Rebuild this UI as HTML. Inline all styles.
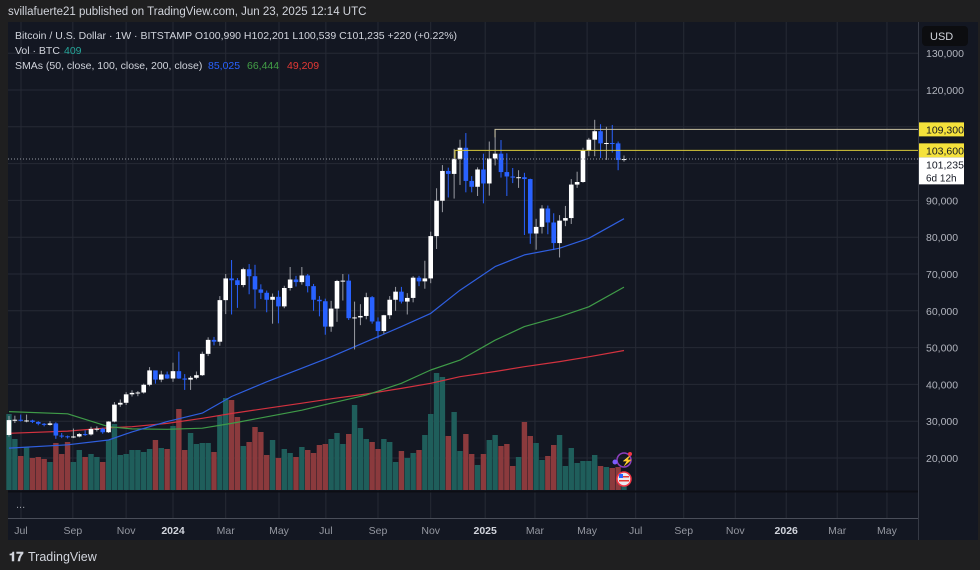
<!DOCTYPE html>
<html><head><meta charset="utf-8">
<style>
html,body{margin:0;padding:0;background:#1f1f20;width:980px;height:570px;overflow:hidden;font-family:"Liberation Sans",sans-serif;}
#hdr{position:absolute;left:8px;top:6px;font-size:11.5px;color:#d1d4dc;}
svg{position:absolute;left:0;top:0;}
</style></head><body>
<div id="hdr">svillafuerte21 published on TradingView.com, Jun 23, 2025 12:14 UTC</div>
<svg id="c" width="980" height="570"></svg>
<script>
const opens=[26250,30300,30400,30100,30200,29800,29300,29000,29400,26100,25900,25800,25850,26500,26400,27900,27950,27000,29900,34500,35000,37300,37700,37800,39900,43800,41300,42700,41600,43600,41600,41300,41800,42500,48300,52100,51600,62900,68800,68300,67000,71300,69400,65800,64900,63000,63800,61200,66200,68500,67800,69600,66700,63000,62600,55700,60600,68100,68200,58000,58200,58600,63700,57100,54500,58800,63000,65200,62500,63500,69000,68000,68800,80300,89900,98000,97200,101300,104300,95300,93700,98400,94600,101400,102700,97700,96500,96200,96300,95800,81000,82800,87800,84000,78400,84500,85200,94300,95000,103500,106500,108800,105500,105600,105500,100990];
const closes=[30300,30400,30100,30200,29800,29300,29000,29400,26100,25900,25800,25850,26500,26400,27900,27950,27000,29900,34500,35000,37300,37700,37800,39900,43800,41300,42700,41600,43600,41600,41300,41800,42500,48300,52100,51600,62900,68800,68300,67000,71300,69400,65800,64900,63000,63800,61200,66200,68500,67800,69600,66700,63000,62600,55700,60600,68100,68200,58000,58200,58600,63700,57100,54500,58800,63000,65200,62500,63500,69000,68000,68800,80300,89900,98000,97200,101300,104300,95300,93700,98400,94600,101400,102700,97700,96500,96200,96300,95800,81000,82800,87800,84000,78400,84500,85200,94300,95000,103500,106500,108800,105500,105600,105500,100990,101235];
const highs=[31400,31500,31800,31800,30400,30000,29500,30000,29700,26800,26100,28000,26800,27500,28500,28600,28200,30000,35200,35900,37900,38400,38200,40200,44700,43400,43700,43500,45900,48900,42800,42300,43500,48900,52800,52900,64000,70000,73800,68900,71700,72700,72500,67200,65500,64700,65500,66800,71900,69500,71900,70000,67300,64000,63300,62700,68400,70000,69900,62500,61800,64900,64000,58200,58900,64000,66500,66500,64800,69400,69500,73600,81500,93300,99600,98900,104000,106500,108300,96600,99000,102700,106000,109300,106400,102800,98800,98200,97500,95900,85000,88700,88600,86500,86000,88500,95800,97800,104300,107000,111900,110700,110000,110500,106000,102201];
const lows=[25800,29500,29900,29700,29500,28900,28600,28800,25200,25400,25300,25400,25600,26000,26100,27200,26600,26800,29700,33900,34400,36700,36800,37500,39500,40200,40600,41500,40700,41500,38500,38500,41400,42300,47700,50600,50500,59100,59000,60800,66400,64500,60600,63200,59600,56500,56600,60700,65500,66600,67100,65000,60000,58500,53500,54300,57000,62800,57500,49500,56100,57700,56500,52500,53800,57800,60000,62000,59000,62300,66700,66000,67500,76800,86800,90800,90500,94200,92200,92200,91200,89200,91300,99500,96200,91200,94700,93400,80600,78200,76600,81000,80800,76500,74500,83000,83600,93400,94800,102000,102000,101500,101000,103000,98200,100539];
const volumes=[76,51,34,43,32,33,31,28,47,36,48,28,40,33,36,33,28,50,66,35,36,40,40,38,41,50,42,41,64,81,40,57,46,47,47,38,74,92,90,73,44,48,63,58,35,50,32,41,37,33,43,40,37,45,46,51,57,46,56,85,62,51,48,41,51,48,28,39,32,37,40,55,76,117,113,54,78,39,56,36,25,36,50,55,44,46,24,33,68,54,47,30,34,45,55,24,42,27,29,29,35,24,23,22,23,8];
const smaIdx=[0,10,17,21,27,33,38,44,50,55,61,67,72,77,83,88,94,99,105];
const sma50=[22700,23600,24900,27100,29900,32200,36700,40700,44400,47500,51600,55700,59300,65600,72000,75200,77000,79700,85025];
const sma100=[32600,32000,28500,27900,27800,28100,29400,31200,33000,34900,37100,40300,43900,46600,52000,55700,58400,61100,66444];
const sma200=[26700,27300,28200,28500,29400,30800,32100,33500,34900,36100,37400,38900,40300,42100,43500,44800,46200,47500,49209];
const priceTicks=[20000,30000,40000,50000,60000,70000,80000,90000,100000,110000,120000,130000];
const timeLabels=["Jul","Sep","Nov","2024","Mar","May","Jul","Sep","Nov","2025","Mar","May","Jul","Sep","Nov","2026","Mar","May"];
const timeLabelIdx=[2.05,10.9,20,28,37,46.1,54.1,63,72,81.3,89.8,98.7,107,115.2,124,132.7,141.4,149.9];
const levels=[109300,103600];

const NS="http://www.w3.org/2000/svg";
const svg=document.getElementById('c');
function mk(t,a,p){const e=document.createElementNS(NS,t);for(const k in a)e.setAttribute(k,a[k]);(p||svg).appendChild(e);return e;}
const X0=9,STEP=5.857,PL=8,PR=918,PT=22,PB=490;
const xs=i=>X0+i*STEP;
const ys=p=>458-(p-20000)*0.00368;
const yv=v=>PB-v;

let e;
e=mk('rect',{x:8,y:22,width:970,height:518,fill:'#131722'});

const g=mk('g',{});

priceTicks.forEach(p=>{mk('line',{x1:PL,x2:PR,y1:ys(p),y2:ys(p),stroke:'#262a35','stroke-width':1},g);});
timeLabelIdx.forEach(i=>{mk('line',{x1:xs(i),x2:xs(i),y1:PT,y2:518,stroke:'#262a35','stroke-width':1},g);});
mk('line',{x1:918.5,x2:918.5,y1:22,y2:540,stroke:'#363a45'});
mk('line',{x1:8,x2:918,y1:518.5,y2:518.5,stroke:'#4a4e59'});
mk('line',{x1:8,x2:918,y1:491.5,y2:491.5,stroke:'#0c0e14','stroke-width':2});
const vg=mk('g',{});

volumes.forEach((v,i)=>{
  const up=closes[i]>=opens[i];
  const r=mk('rect',{x:xs(i)-2.7,y:yv(v),width:5.4,height:v,fill:up?'#1f5e5b':'#8b3a3d'},vg);
  
  
});
function line(arr,col,name){
  const pts=smaIdx.map((ix,k)=>xs(ix).toFixed(1)+','+ys(arr[k]).toFixed(1)).join(' ');
  const l=mk('polyline',{points:pts,fill:'none',stroke:col,'stroke-width':1.2,'stroke-linejoin':'round'});
  
  
}
line(sma200,'#d3323f','sma-200-line');
line(sma100,'#3f9b48','sma-100-line');
line(sma50,'#2f5fe0','sma-50-line');
const cg=mk('g',{});

opens.forEach((o,i)=>{
  const c=closes[i],up=c>=o,x=xs(i);
  const col=up?'#ffffff':'#2962ff';
  const w=mk('line',{x1:x,x2:x,y1:ys(highs[i]),y2:ys(lows[i]),stroke:up?'#9a9ca3':'#2962ff','stroke-width':1},cg);
  
  
  const t=ys(Math.max(o,c)),b=ys(Math.min(o,c));
  const r=mk('rect',{x:x-2.3,y:t,width:4.6,height:Math.max(1,b-t),fill:col},cg);
  
  
});
const l1=mk('polyline',{points:`495,${ys(levels[0])+8} 495,${ys(levels[0])} ${PR},${ys(levels[0])}`,fill:'none',stroke:'#c9c1a0','stroke-width':1});

const l2=mk('polyline',{points:`455,${ys(levels[1])+8} 455,${ys(levels[1])} ${PR},${ys(levels[1])}`,fill:'none',stroke:'#d8c93a','stroke-width':1});

const lp=mk('line',{x1:PL,x2:PR,y1:ys(closes[closes.length-1]),y2:ys(closes[closes.length-1]),stroke:'#9598a1','stroke-width':1,'stroke-dasharray':'1 2'});

priceTicks.forEach(p=>{
  if(p===100000||p===110000)return;
  const t=mk('text',{x:926,y:ys(p)+4,fill:'#b2b5be','font-size':'10.5px'});
  t.textContent=p.toLocaleString('en-US');
  
  
});
function tag(y0,h,txt,bg,fg,name){
  const r=mk('rect',{x:919,y:y0,width:45,height:h,fill:bg});
  
  const t=mk('text',{x:926,y:y0+11,fill:fg,'font-size':'10.5px'});t.textContent=txt;
  
}
tag(ys(levels[0])-7,14,'109,300','#f5e23b','#131722','level-tag-109300');
tag(ys(levels[1])-7,14,'103,600','#f5e23b','#131722','level-tag-103600');
tag(ys(levels[1])+7,19,'101,235','#ffffff','#131722','last-price-tag');
e=mk('text',{x:926,y:ys(levels[1])+31,fill:'#131722','font-size':'10px'});e.textContent='6d 12h';
mk('rect',{x:919,y:ys(levels[1])+25,width:45,height:0.1,fill:'#fff'});

// white backing for countdown
(function(){const r=mk('rect',{x:919,y:ys(levels[1])+24,width:45,height:10,fill:'#ffffff'});svg.insertBefore(r,e);})();
e=mk('rect',{x:922,y:26,width:46,height:20,rx:4,fill:'#0c0d10'});

e=mk('text',{x:930,y:40,fill:'#d1d4dc','font-size':'11px'});e.textContent='USD';

timeLabels.forEach((s,k)=>{
  const bold=/^\d{4}$/.test(s);
  const t=mk('text',{x:xs(timeLabelIdx[k]),y:534,fill:bold?'#d1d4dc':'#9598a1','font-size':'10.5px','font-weight':bold?'bold':'normal','text-anchor':'middle'});
  t.textContent=s;
  
  
});
e=mk('text',{x:16,y:508,fill:'#9598a1','font-size':'11px'});e.textContent='...';

function tx(x,y,s,col,name,size){const t=mk('text',{x:x,y:y,fill:col,'font-size':size||'10.5px'});t.textContent=s;return t;}
tx(15,39,'Bitcoin / U.S. Dollar · 1W · BITSTAMP  O100,990  H102,201  L100,539  C101,235  +220 (+0.22%)','#d1d4dc','symbol-legend').setAttribute('xml:space','preserve');
tx(15,54,'Vol · BTC','#d1d4dc','volume-legend');
tx(64,54,'409','#26a69a','volume-value');
tx(15,69,'SMAs (50, close, 100, close, 200, close)','#d1d4dc','sma-legend');
tx(208,69,'85,025','#2962ff','sma-50-value');
tx(247,69,'66,444','#43a047','sma-100-value');
tx(287,69,'49,209','#e53935','sma-200-value');
e=mk('circle',{cx:624,cy:460,r:7,fill:'none',stroke:'#8e3fbf','stroke-width':1.5});

mk('text',{x:621,y:464,fill:'#9b4fd0','font-size':'10px'}).textContent='⚡';
mk('circle',{cx:630,cy:454,r:2,fill:'#f23645'});
mk('circle',{cx:615,cy:462,r:2.5,fill:'#7b5cff'});
e=mk('circle',{cx:624,cy:479,r:7,fill:'#e8eaf0',stroke:'#f23645','stroke-width':1.5});

mk('rect',{x:619,y:476,width:10,height:1.5,fill:'#e53935'});
mk('rect',{x:619,y:480,width:10,height:1.5,fill:'#e53935'});
mk('rect',{x:619,y:474,width:4,height:4,fill:'#2962ff'});
e=mk('text',{x:9,y:561,fill:'#d1d4dc','font-size':'13px','font-weight':'bold'});e.textContent='𝟏𝟕';

tx(28,561,'TradingView','#d1d4dc','tradingview-wordmark','12.5px');
</script>
</body></html>
